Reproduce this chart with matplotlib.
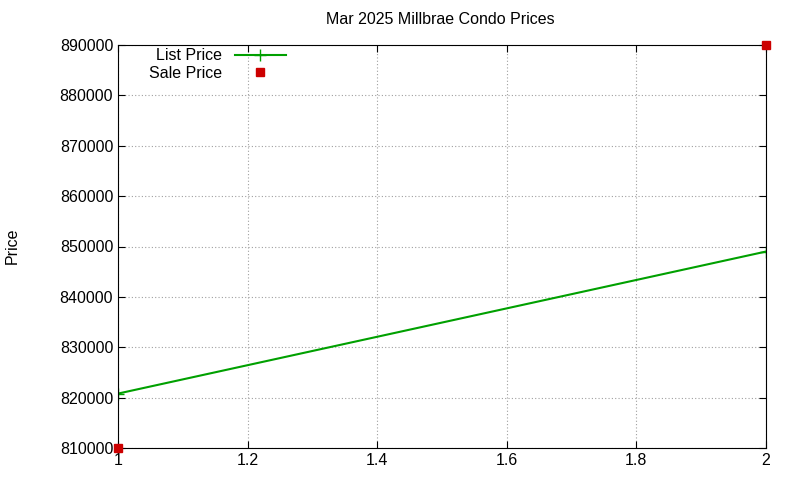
import matplotlib
matplotlib.use("Agg")
import matplotlib.pyplot as plt

plt.rcParams['font.family'] = ['Liberation Sans', 'DejaVu Sans']
plt.rcParams['font.size'] = 11.5

list_x = [1, 2]
list_price = [820800, 849000]
sale_x = [1, 2]
sale_price = [810000, 890000]

fig = plt.figure(figsize=(8, 4.8), dpi=100)
ax = fig.add_axes([118 / 800, 1 - 448 / 480, (766 - 118) / 800, (448 - 45) / 480])

ax.plot(list_x, list_price, color='#00a000', marker='+', markersize=8, linewidth=1.5, label='List Price')
ax.plot(sale_x, sale_price, color='#cc0000', marker='s', markersize=6, linestyle='none',
        label='Sale Price', clip_on=False, zorder=5)

ax.set_xlim(1, 2)
ax.set_ylim(810000, 890000)
ax.set_xticks([1, 1.2, 1.4, 1.6, 1.8, 2])
ax.set_xticklabels(['1', '1.2', '1.4', '1.6', '1.8', '2'])
ax.set_yticks(range(810000, 890001, 10000))
ax.set_yticklabels([str(v) for v in range(810000, 890001, 10000)])
ax.tick_params(direction='in', top=True, right=True, length=5)
ax.grid(True, color='#a0a0a0', linestyle=(0, (1, 2)), linewidth=0.8)
for s in ax.spines.values():
    s.set_linewidth(0.8)

fig.text(440 / 800, 1 - 20 / 480, 'Mar 2025 Millbrae Condo Prices', ha='center', va='center')
fig.text(12 / 800, 1 - 246 / 480, 'Price', rotation=90, ha='center', va='center')

leg = ax.legend(loc='upper left', bbox_to_anchor=(0.03, 1.02), frameon=False, markerfirst=False,
                handlelength=3.2, borderpad=0.2, labelspacing=0.15, handletextpad=0.8)
for t in leg.get_texts():
    t.set_ha('right')
leg._legend_box.align = 'right'

fig.savefig('out.png', dpi=100)
